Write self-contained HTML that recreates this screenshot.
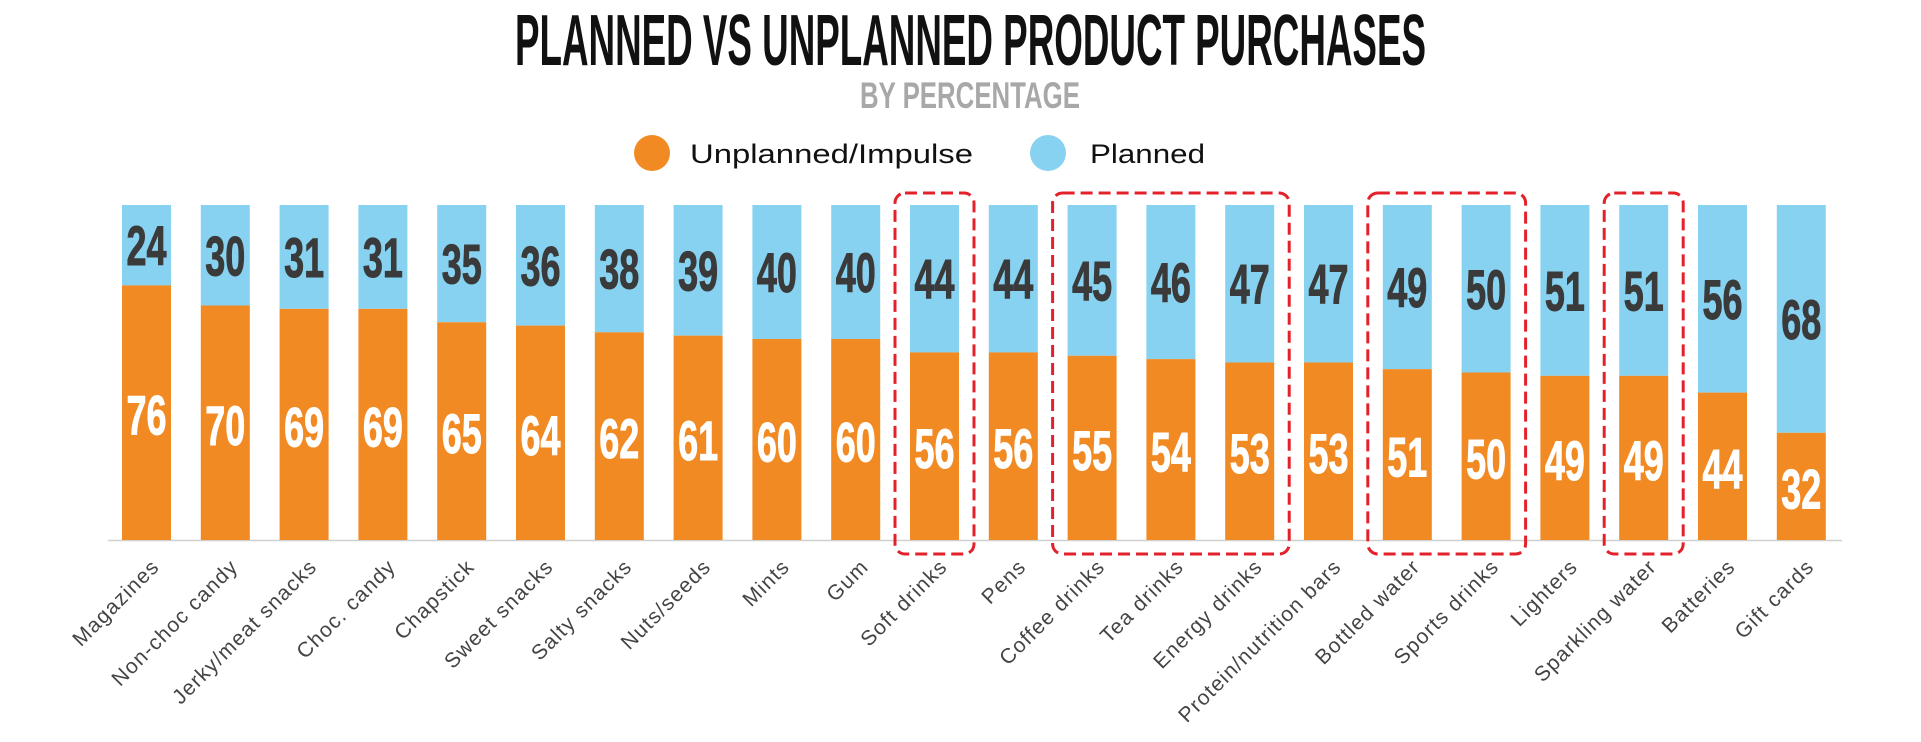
<!DOCTYPE html>
<html><head><meta charset="utf-8">
<style>
html,body{margin:0;padding:0;background:#fff;}
svg{display:block;}
</style></head>
<body>
<svg id="chart" width="1921" height="742" viewBox="0 0 1921 742" xmlns="http://www.w3.org/2000/svg">
  <text x="515" y="65" textLength="911" lengthAdjust="spacingAndGlyphs" font-family="Liberation Sans, sans-serif" font-weight="bold" font-size="72" fill="#111">PLANNED VS UNPLANNED PRODUCT PURCHASES</text>
  <text x="860" y="108" textLength="220" lengthAdjust="spacingAndGlyphs" font-family="Liberation Sans, sans-serif" font-weight="bold" font-size="37" fill="#a8a8a8">BY PERCENTAGE</text>
  <g>
    <g>
      <circle cx="652" cy="153" r="18" fill="#f28a24"/>
      <text x="690" y="163" textLength="283" lengthAdjust="spacingAndGlyphs" font-family="Liberation Sans, sans-serif" font-size="27" fill="#111">Unplanned/Impulse</text>
    </g>
    <g>
      <circle cx="1048" cy="153" r="18" fill="#87d2f1"/>
      <text x="1090" y="163" textLength="115" lengthAdjust="spacingAndGlyphs" font-family="Liberation Sans, sans-serif" font-size="27" fill="#111">Planned</text>
    </g>
  </g>
  <line x1="108" y1="540.5" x2="1842" y2="540.5" stroke="#d0d0d0" stroke-width="1.5"/>
  <g id="bars"></g>
  <g id="labels"></g>
  <g id="boxes"></g>
</svg>
<script>
const categories = ["Magazines","Non-choc candy","Jerky/meat snacks","Choc. candy","Chapstick","Sweet snacks","Salty snacks","Nuts/seeds","Mints","Gum","Soft drinks","Pens","Coffee drinks","Tea drinks","Energy drinks","Protein/nutrition bars","Bottled water","Sports drinks","Lighters","Sparkling water","Batteries","Gift cards"];
const unplanned = [76,70,69,69,65,64,62,61,60,60,56,56,55,54,53,53,51,50,49,49,44,32];
const planned = [24,30,31,31,35,36,38,39,40,40,44,44,45,46,47,47,49,50,51,51,56,68];
const highlightGroups = [[10,10],[12,14],[16,17],[19,19]];

const NS = "http://www.w3.org/2000/svg";
const x0 = 122, pitch = 78.8, bw = 49;
const yBottom = 540, yTop = 205;
function xPos(i){ return x0 + i*pitch; }
function yScale(v){ return yBottom - (v/100)*(yBottom - yTop); }
function mk(tag, attrs){ const e = document.createElementNS(NS, tag); for (const k in attrs) e.setAttribute(k, attrs[k]); return e; }

const bars = document.getElementById('bars');
const labels = document.getElementById('labels');
const boxes = document.getElementById('boxes');

categories.forEach((c, i) => {
  const x = xPos(i);
  const yU = yScale(unplanned[i]);
  const yP = yScale(unplanned[i] + planned[i]);
  const rp = mk('rect', {x: x, y: yP, width: bw, height: yU - yP, fill: '#87d2f1'});
  
  
  bars.appendChild(rp);
  const ru = mk('rect', {x: x, y: yU, width: bw, height: yBottom - yU, fill: '#f28a24'});
  
  
  bars.appendChild(ru);

  const tp = mk('text', {x: x + bw/2 - 20, y: (yP + yU)/2 + 20, textLength: 40, lengthAdjust: 'spacingAndGlyphs', 'font-family': 'Liberation Sans, sans-serif', 'font-weight': 'bold', 'font-size': 56, fill: '#3a3a3a', stroke: '#3a3a3a', 'stroke-width': 1});
  tp.textContent = planned[i];
  
  
  bars.appendChild(tp);
  const tu = mk('text', {x: x + bw/2 - 20, y: (yU + yBottom)/2 + 22, textLength: 40, lengthAdjust: 'spacingAndGlyphs', 'font-family': 'Liberation Sans, sans-serif', 'font-weight': 'bold', 'font-size': 56, fill: '#ffffff', stroke: '#ffffff', 'stroke-width': 1});
  tu.textContent = unplanned[i];
  
  
  bars.appendChild(tu);

  const ax = x + bw/2 + 14, ay = 568;
  const tl = mk('text', {x: ax, y: ay, 'text-anchor': 'end', transform: `rotate(-45 ${ax} ${ay})`, 'font-family': 'Liberation Sans, sans-serif', 'font-size': 21, 'letter-spacing': 1.2, fill: '#444'});
  tl.textContent = c;
  
  
  labels.appendChild(tl);
});

highlightGroups.forEach(g => {
  const x1 = xPos(g[0]) - 15, x2 = xPos(g[1]) + bw + 15;
  const r = mk('rect', {x: x1, y: 193, width: x2 - x1, height: 554 - 193, rx: 10, ry: 10, fill: 'none', stroke: '#e3212b', 'stroke-width': 3, 'stroke-dasharray': '12 6'});
  
  
  boxes.appendChild(r);
});
</script>
</body></html>
